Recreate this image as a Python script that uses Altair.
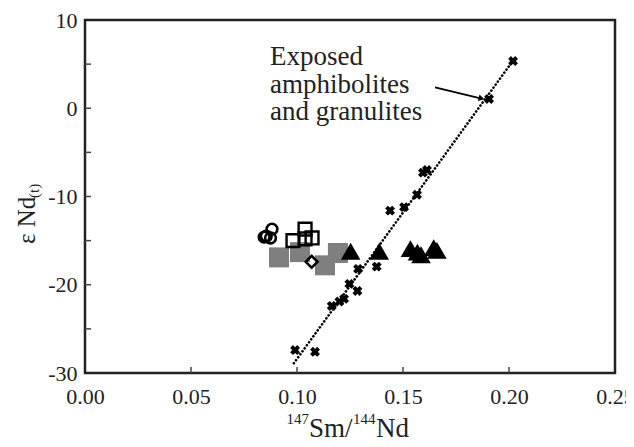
import altair as alt
import pandas as pd

# ---------------- data ----------------
cross_x = [0.2019, 0.1906, 0.1594, 0.1613, 0.1566, 0.1439, 0.1505, 0.1288,
           0.1376, 0.1247, 0.1285, 0.1222, 0.1164, 0.1200, 0.0991, 0.1085]
cross_y = [5.35, 1.05, -7.3, -7.0, -9.8, -11.6, -11.2, -18.2,
           -17.95, -19.9, -20.7, -21.6, -22.4, -21.9, -27.4, -27.6]
line_x = [0.0985, 0.2025]
line_y = [-28.9, 5.6]
circle_x = [0.0845, 0.0855, 0.0882, 0.0875]
circle_y = [-14.6, -14.5, -13.7, -14.7]
osq_x = [0.0981, 0.1038, 0.1038, 0.1071]
osq_y = [-15.0, -13.7, -14.8, -14.7]
gsq_x = [0.0915, 0.1014, 0.1132, 0.1193]
gsq_y = [-16.9, -16.3, -17.8, -16.4]
dia_x = [0.1069]
dia_y = [-17.4]
tri_x = [0.1253, 0.1388, 0.1535, 0.1568, 0.1585, 0.1645, 0.1660]
tri_y = [-16.2, -16.2, -15.9, -16.3, -16.6, -15.8, -16.1]

x_labels = [0.0, 0.05, 0.10, 0.15, 0.20, 0.25]
y_labels = [-30, -20, -10, 0, 10]
x_inner_ticks = [0.05, 0.10, 0.15, 0.20]
y_inner_ticks = [-25, -20, -15, -10, -5, 0, 5]

ann_lines = ["Exposed", "amphibolites", "and granulites"]
ann_x, ann_y = [0.0873], [4.9]
arrow_x, arrow_y, arrow_x2, arrow_y2 = [0.1651], [2.37], [0.1866], [1.13]

W, H = 530, 353
SERIF = "Liberation Serif"

xs = alt.Scale(domain=[0, 0.25], nice=False, zero=False)
ys = alt.Scale(domain=[-30, 10], nice=False, zero=False)
x_axis = alt.Axis(values=x_labels, format=".2f", title=None, ticks=False, tickSize=0,
                  domain=False, grid=False, labelFont=SERIF, labelFontSize=22,
                  labelColor="#222", labelPadding=13, labelFlush=False, labelOverlap=False)
y_axis = alt.Axis(values=y_labels, labelExpr="'' + datum.value", title=None, ticks=False,
                  tickSize=0, domain=False, grid=False, labelFont=SERIF, labelFontSize=22,
                  labelColor="#222", labelPadding=8, labelFlush=False, labelOverlap=False)


def X(f):
    return alt.X(f, type="quantitative", scale=xs, axis=x_axis)


def Y(f):
    return alt.Y(f, type="quantitative", scale=ys, axis=y_axis)


def pts(xv, yv):
    return pd.DataFrame({"x": xv, "y": yv})


ytick = alt.Chart(pd.DataFrame({"y": y_inner_ticks})).mark_rule(
    color="#444", strokeWidth=1.5).encode(y=Y("y"), x=alt.value(0), x2=alt.value(6))
xtick = alt.Chart(pd.DataFrame({"x": x_inner_ticks})).mark_rule(
    color="#444", strokeWidth=1.5).encode(x=X("x"), y=alt.value(H), y2=alt.value(H - 6))

trend = alt.Chart(pts(line_x, line_y)).mark_line(
    color="black", strokeWidth=2.6, strokeDash=[0.1, 3.6], strokeCap="round"
).encode(x=X("x"), y=Y("y"))

gray = alt.Chart(pts(gsq_x, gsq_y)).mark_point(
    shape="square", filled=True, color="#7f7f7f", size=400, opacity=1
).encode(x=X("x"), y=Y("y"))

crosses = alt.Chart(pts(cross_x, cross_y)).mark_point(
    shape="cross", angle=45, filled=True, color="black", size=100, opacity=1
).encode(x=X("x"), y=Y("y"))

circles = alt.Chart(pts(circle_x, circle_y)).mark_point(
    shape="circle", filled=False, color="black", size=115, strokeWidth=2.6, opacity=1
).encode(x=X("x"), y=Y("y"))

osq = alt.Chart(pts(osq_x, osq_y)).mark_point(
    shape="square", filled=False, color="black", size=165, strokeWidth=2.4, opacity=1
).encode(x=X("x"), y=Y("y"))

dia = alt.Chart(pts(dia_x, dia_y)).mark_point(
    shape="diamond", filled=False, color="black", size=140, strokeWidth=2.6, opacity=1
).encode(x=X("x"), y=Y("y"))

tri = alt.Chart(pts(tri_x, tri_y)).mark_point(
    shape="triangle-up", filled=True, color="black", size=380, opacity=1
).encode(x=X("x"), y=Y("y"))

arrow = alt.Chart(pd.DataFrame({"x": arrow_x, "y": arrow_y, "x2": arrow_x2, "y2": arrow_y2})).mark_rule(
    color="black", strokeWidth=1.8
).encode(x=X("x"), y=Y("y"), x2="x2", y2="y2")

head = alt.Chart(pts(arrow_x2, arrow_y2)).mark_point(
    shape="triangle", filled=True, color="black", size=45, angle=104, opacity=1
).encode(x=X("x"), y=Y("y"))

ann = alt.Chart(pts(ann_x, ann_y)).mark_text(
    text=ann_lines, align="left", baseline="alphabetic", font=SERIF, fontSize=27,
    lineHeight=27.5, color="#222"
).encode(x=X("x"), y=Y("y"))


# axis titles with super/subscripts
def txt(t, x, y, size, angle=0, align="left"):
    return alt.Chart(pd.DataFrame({"a": [0]})).mark_text(
        text=t, font=SERIF, fontSize=size, align=align, baseline="alphabetic",
        angle=angle, color="#222"
    ).encode(x=alt.value(x), y=alt.value(y))


t1 = txt("147", 224, 404, 15, align="right")
t2 = txt("Sm/", 224, 417, 27)
t3 = txt("144", 268, 404, 15)
t4 = txt("Nd", 291, 417, 27)
t5 = txt("ε Nd", -50, 224, 25, angle=270)
t6 = txt("(t)", -46, 178, 15, angle=270)

chart = alt.layer(
    ytick, xtick, trend, gray, crosses, circles, osq, dia, tri, arrow, head, ann,
    t1, t2, t3, t4, t5, t6
).properties(
    width=W, height=H,
    autosize=alt.AutoSizeParams(type="none"),
    padding={"left": 77, "top": 12, "right": 11, "bottom": 74},
    background="white",
).configure_view(stroke="#222", strokeWidth=2.5)

chart.save("out.html", embed_options={"renderer": "svg", "actions": False})
